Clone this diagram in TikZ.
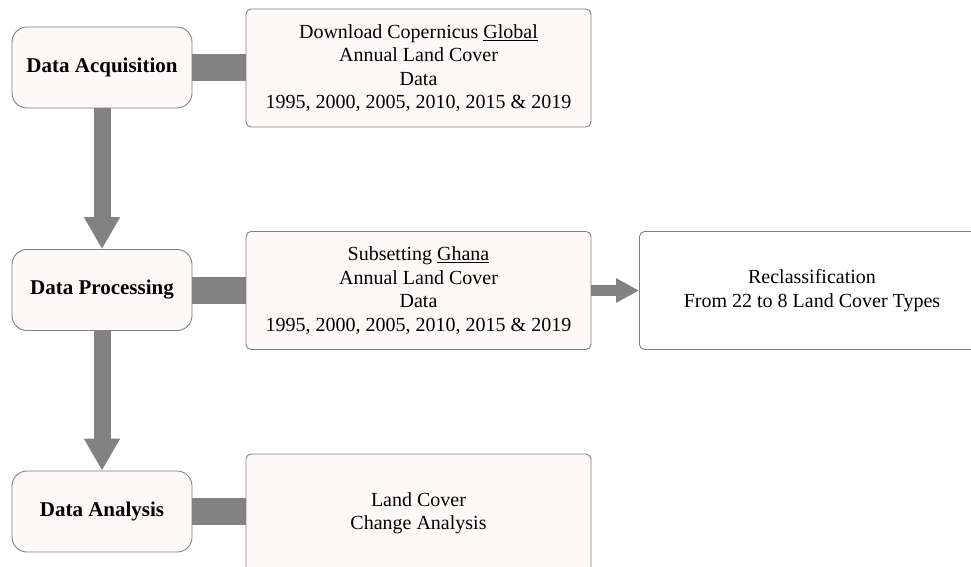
\documentclass[tikz,border=0pt]{standalone}
\usepackage{fontspec}
\setmainfont{Liberation Serif}
\usetikzlibrary{arrows.meta}
\definecolor{boxline}{RGB}{128,128,128}
\definecolor{boxfill}{RGB}{253,249,248}
\definecolor{bargray}{RGB}{130,130,130}
\begin{document}
\begin{tikzpicture}[x=1pt,y=-1pt,
    stage/.style={draw=boxline, line width=0.9pt, fill=boxfill, rounded corners=15pt,
      minimum width=180pt, minimum height=81pt, inner sep=0pt,
      font=\fontsize{21}{25}\selectfont\bfseries},
    infobox/.style={draw=boxline, line width=0.9pt, fill=boxfill, rounded corners=5pt,
      minimum width=345pt, minimum height=118pt, inner sep=0pt, align=center,
      font=\fontsize{20}{23.5}\selectfont},
    bar/.style={bargray, line width=27pt},
    flow/.style={bargray, line width=17pt, -{Triangle[width=34pt, length=32pt]}},
    sideflow/.style={bargray, line width=11pt, -{Triangle[width=23pt, length=23pt]}}]

    \clip (0,0) rectangle (971,566);

    % left column
    \node[stage] (acq) at (102,67.5) {Data Acquisition};
    \node[stage] (proc) at (102,290) {Data Processing};
    \node[stage] (ana) at (102,511.5) {Data Analysis};

    % right column
    \node[infobox] (dl) at (418.5,68) {Download Copernicus \underline{Global}\\Annual Land Cover\\Data\\1995, 2000, 2005, 2010, 2015 \& 2019};
    \node[infobox] (sub) at (418.5,290.5) {Subsetting \underline{Ghana}\\Annual Land Cover\\Data\\1995, 2000, 2005, 2010, 2015 \& 2019};
    \node[infobox, fill=white] (recl) at (812,290.5) {Reclassification\\From 22 to 8 Land Cover Types};
    \node[infobox] (chg) at (418.5,513) {Land Cover\\Change Analysis};

    % connectors
    \draw[bar] (acq.east) -- (acq.east -| dl.west);
    \draw[bar] (proc.east) -- (proc.east -| sub.west);
    \draw[bar] (ana.east) -- (ana.east -| chg.west);
    \draw[flow] (acq.south) -- (proc.north);
    \draw[flow] (proc.south) -- (ana.north);
    \draw[sideflow] (sub.east) -- (recl.west);
\end{tikzpicture}
\end{document}
